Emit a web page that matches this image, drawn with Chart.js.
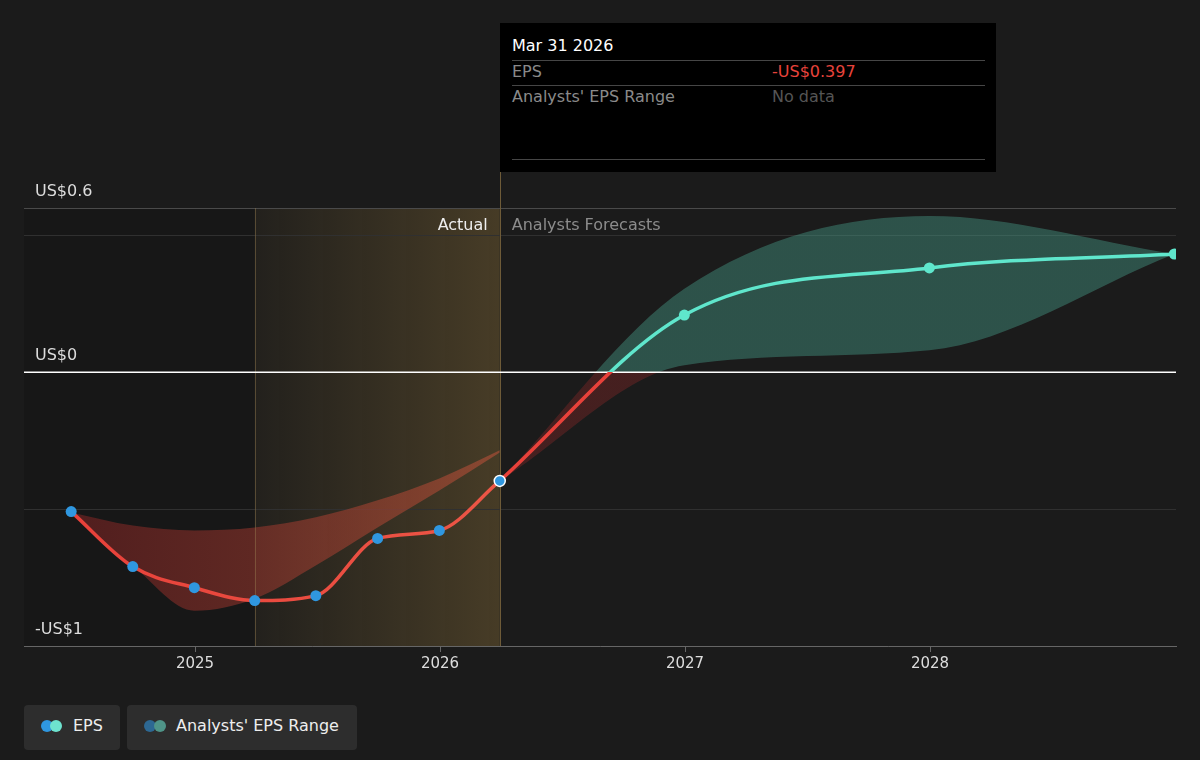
<!DOCTYPE html>
<html lang="en">
<head>
    <meta charset="UTF-8">
    <title>EPS</title>
    <script src="https://cdn.jsdelivr.net/npm/chart.js@4.4.1/dist/chart.umd.min.js"></script>
    <style>
        body { margin: 0; background: #1b1b1b; font-family: 'DejaVu Sans', sans-serif; }
        #wrap { position: relative; width: 1200px; height: 760px; }
        #wrap canvas { position: absolute; left: 0; top: 0; }
        .tip { position: absolute; left: 500px; top: 23px; width: 496px; height: 149px; background: #000; font-size: 16px; }
        .tip div { position: absolute; line-height: 18px; white-space: nowrap; }
        .tip .sep { left: 12px; width: 473px; height: 1px; background: #464646; }
        .legend { position: absolute; top: 705px; height: 45px; background: #2d2d2d; border-radius: 4px; color: #eee; font-size: 16px; }
        .legend span.txt { position: absolute; top: 11px; line-height: 19px; white-space: nowrap; }
        .dot { position: absolute; top: 15px; width: 12px; height: 12px; border-radius: 50%; }
    </style>
</head>
<body>
    <div id="wrap">
        <canvas id="epsChart"></canvas>

        <!-- tooltip fijo -->
        <div class="tip">
            <div style="left:12px; top:14px; color:#fff;">Mar 31 2026</div>
            <div class="sep" style="top:37px;"></div>
            <div style="left:12px; top:40px; color:#8a8a8a;">EPS</div>
            <div style="left:272px; top:40px; color:#e8433b;">-US$0.397</div>
            <div class="sep" style="top:62px;"></div>
            <div style="left:12px; top:65px; color:#8a8a8a;">Analysts' EPS Range</div>
            <div style="left:272px; top:65px; color:#555;">No data</div>
            <div class="sep" style="top:136px;"></div>
        </div>

        <!-- leyenda -->
        <div class="legend" style="left:24px; width:96px;">
            <span class="dot" style="left:17px; background:#2f97e0;"></span>
            <span class="dot" style="left:26px; background:#6ee3cf;"></span>
            <span class="txt" style="left:49px;">EPS</span>
        </div>
        <div class="legend" style="left:127px; width:230px;">
            <span class="dot" style="left:17px; background:#2d6893;"></span>
            <span class="dot" style="left:27px; background:#4f9488;"></span>
            <span class="txt" style="left:49px;">Analysts' EPS Range</span>
        </div>
    </div>

    <script>
        // datos
        const actualDates = ['2024-06-30', '2024-09-30', '2024-12-31', '2025-03-31', '2025-06-30', '2025-09-30', '2025-12-31', '2026-03-31'];
        const actualEps = [-0.509, -0.71, -0.787, -0.834, -0.816, -0.607, -0.578, -0.397];
        const pastRangeHigh = [-0.512, -0.56, -0.578, -0.567, -0.53, -0.468, -0.388, -0.285];
        const pastRangeLow = [-0.512, -0.706, -0.871, -0.827, -0.706, -0.567, -0.432, -0.293];

        const forecastDates = ['2026-03-31', '2026-12-31', '2027-12-31', '2028-12-31'];
        const forecastEps = [-0.397, 0.209, 0.381, 0.432];
        const forecastHigh = [-0.397, 0.305, 0.571, 0.432];
        const forecastLow = [-0.397, 0.026, 0.08, 0.432];

        const xTicks = [2025, 2026, 2027, 2028];
        const yTicks = [-1, -0.5, 0, 0.5, 0.6];
        const yLabels = { '-1': '-US$1', '0': 'US$0', '0.6': 'US$0.6' };

        const pastStart = '2025-03-31';
        const forecastStart = '2026-03-31';

        // fecha -> año decimal
        function toYear(s) {
            const d = new Date(s + 'T00:00:00Z');
            const y = d.getUTCFullYear();
            const a = Date.UTC(y, 0, 1), b = Date.UTC(y + 1, 0, 1);
            return y + (d - a) / (b - a);
        }
        function pts(dates, vals) {
            return dates.map((d, i) => ({ x: toYear(d), y: vals[i] }));
        }

        // degradado con corte en cero
        function splitGradient(chart, above, below) {
            const { ctx, chartArea, scales } = chart;
            if (!chartArea) return below;
            const y0 = scales.y.getPixelForValue(0);
            let stop = (y0 - chartArea.top) / (chartArea.bottom - chartArea.top);
            stop = Math.min(1, Math.max(0, stop));
            const g = ctx.createLinearGradient(0, chartArea.top, 0, chartArea.bottom);
            g.addColorStop(0, above);
            g.addColorStop(stop, above);
            g.addColorStop(stop, below);
            g.addColorStop(1, below);
            return g;
        }
        function pastGradient(chart, from, to) {
            const { ctx, chartArea, scales } = chart;
            if (!chartArea) return from;
            const g = ctx.createLinearGradient(scales.x.getPixelForValue(toYear(actualDates[0])), 0, scales.x.getPixelForValue(toYear(forecastStart)), 0);
            g.addColorStop(0, from);
            g.addColorStop(1, to);
            return g;
        }

        const lastIdx = actualEps.length - 1;

        // fondo: zona pasada y zona "actual"
        const fondo = {
            id: 'fondo',
            beforeDraw(chart) {
                const { ctx, chartArea, scales } = chart;
                const xa = scales.x.getPixelForValue(toYear(pastStart));
                const xb = scales.x.getPixelForValue(toYear(forecastStart));
                ctx.save();
                ctx.fillStyle = 'rgba(0,0,0,0.12)';
                ctx.fillRect(chartArea.left, chartArea.top, xa - chartArea.left, chartArea.bottom - chartArea.top);
                const g = ctx.createLinearGradient(xa, 0, xb, 0);
                g.addColorStop(0, 'rgba(190,150,70,0.05)');
                g.addColorStop(1, 'rgba(190,150,70,0.27)');
                ctx.fillStyle = g;
                ctx.fillRect(xa, chartArea.top, xb - xa, chartArea.bottom - chartArea.top);
                ctx.restore();
            },
            beforeDatasetsDraw(chart) {
                const { ctx, chartArea, scales } = chart;
                const xa = scales.x.getPixelForValue(toYear(pastStart));
                const xb = scales.x.getPixelForValue(toYear(forecastStart));
                const y0 = scales.y.getPixelForValue(0);
                ctx.save();
                ctx.lineWidth = 1;
                ctx.strokeStyle = 'rgba(150,125,80,0.45)';
                ctx.beginPath();
                ctx.moveTo(Math.round(xa) + 0.5, chartArea.top);
                ctx.lineTo(Math.round(xa) + 0.5, chartArea.bottom);
                ctx.stroke();
                ctx.strokeStyle = '#6e5b38';
                ctx.beginPath();
                ctx.moveTo(Math.round(xb) + 0.5, chartArea.top - 36);
                ctx.lineTo(Math.round(xb) + 0.5, chartArea.bottom);
                ctx.stroke();
                // linea cero encima de las bandas
                ctx.strokeStyle = '#ffffff';
                ctx.lineWidth = 1.5;
                ctx.beginPath();
                ctx.moveTo(chartArea.left, y0);
                ctx.lineTo(chartArea.right, y0);
                ctx.stroke();

                ctx.font = "16px 'DejaVu Sans', sans-serif";
                ctx.textBaseline = 'middle';
                ctx.textAlign = 'right';
                ctx.fillStyle = '#eeeeee';
                ctx.fillText('Actual', xb - 12, chartArea.top + 18);
                ctx.textAlign = 'left';
                ctx.fillStyle = '#8c8c8c';
                ctx.fillText('Analysts Forecasts', xb + 12, chartArea.top + 18);
                ctx.restore();
            }
        };

        Chart.defaults.font.family = "'DejaVu Sans', sans-serif";
        Chart.defaults.color = '#dddddd';

        new Chart(document.getElementById('epsChart'), {
            type: 'line',
            data: {
                datasets: [
                    {
                        label: 'EPS',
                        data: pts(actualDates, actualEps),
                        borderColor: (c) => pastGradient(c.chart, '#e8413a', '#ec5646'),
                        borderWidth: 3.5,
                        cubicInterpolationMode: 'monotone',
                        pointRadius: 5.5,
                        pointBackgroundColor: '#2f97e0',
                        pointBorderColor: '#ffffff',
                        pointBorderWidth: actualEps.map((v, i) => i === lastIdx ? 1.5 : 0),
                        fill: false
                    },
                    {
                        label: 'EPS forecast',
                        data: pts(forecastDates, forecastEps),
                        borderColor: (c) => splitGradient(c.chart, '#5fe6cc', '#e8413a'),
                        borderWidth: 3.5,
                        cubicInterpolationMode: 'monotone',
                        pointRadius: forecastEps.map((v, i) => i === 0 ? 0 : 5.5),
                        pointBackgroundColor: '#5fe6cc',
                        pointBorderWidth: 0,
                        fill: false
                    },
                    {
                        label: 'Past range high',
                        data: pts(actualDates, pastRangeHigh),
                        borderWidth: 0,
                        pointRadius: 0,
                        cubicInterpolationMode: 'monotone',
                        backgroundColor: (c) => pastGradient(c.chart, 'rgba(140,38,38,0.5)', 'rgba(205,85,60,0.5)'),
                        fill: '+1'
                    },
                    {
                        label: 'Past range low',
                        data: pts(actualDates, pastRangeLow),
                        borderWidth: 0,
                        pointRadius: 0,
                        cubicInterpolationMode: 'monotone',
                        fill: false
                    },
                    {
                        label: 'Range high',
                        data: pts(forecastDates, forecastHigh),
                        borderWidth: 0,
                        pointRadius: 0,
                        cubicInterpolationMode: 'monotone',
                        backgroundColor: (c) => splitGradient(c.chart, 'rgba(72,160,140,0.42)', 'rgba(170,45,45,0.3)'),
                        fill: '+1'
                    },
                    {
                        label: 'Range low',
                        data: pts(forecastDates, forecastLow),
                        borderWidth: 0,
                        pointRadius: 0,
                        cubicInterpolationMode: 'monotone',
                        fill: false
                    }
                ]
            },
            options: {
                responsive: true,
                maintainAspectRatio: false,
                animation: false,
                events: [],
                layout: { padding: { left: 24, right: 24, top: 208, bottom: 74 } },
                plugins: {
                    legend: { display: false },
                    tooltip: { enabled: false },
                    filler: { drawTime: 'beforeDatasetsDraw' }
                },
                scales: {
                    x: {
                        type: 'linear',
                        min: 2024.302,
                        max: 2029.004,
                        afterBuildTicks: (axis) => { axis.ticks = xTicks.map(v => ({ value: v })); },
                        afterFit: (axis) => { axis.height = 40; },
                        ticks: {
                            autoSkip: false,
                            maxRotation: 0,
                            padding: 3,
                            color: '#dddddd',
                            font: { size: 15 },
                            callback: (v) => String(v)
                        },
                        grid: { drawOnChartArea: false, drawTicks: true, tickLength: 6, color: '#666666' },
                        border: { display: true, color: '#666666' }
                    },
                    y: {
                        min: -1,
                        max: 0.6,
                        afterBuildTicks: (axis) => { axis.ticks = yTicks.map(v => ({ value: v })); },
                        afterFit: (axis) => { axis.width = 0; },
                        ticks: {
                            autoSkip: false,
                            mirror: true,
                            padding: 11,
                            labelOffset: -16,
                            color: '#dddddd',
                            font: { size: 16 },
                            callback: (v) => yLabels[String(v)] || ''
                        },
                        grid: {
                            drawTicks: false,
                            color: (c) => {
                                const v = c.tick ? c.tick.value : null;
                                if (v === 0) return '#ffffff';
                                if (v === 0.6) return '#4a4a4a';
                                return '#303030';
                            }
                        },
                        border: { display: false }
                    }
                }
            },
            plugins: [fondo]
        });
    </script>
</body>
</html>
